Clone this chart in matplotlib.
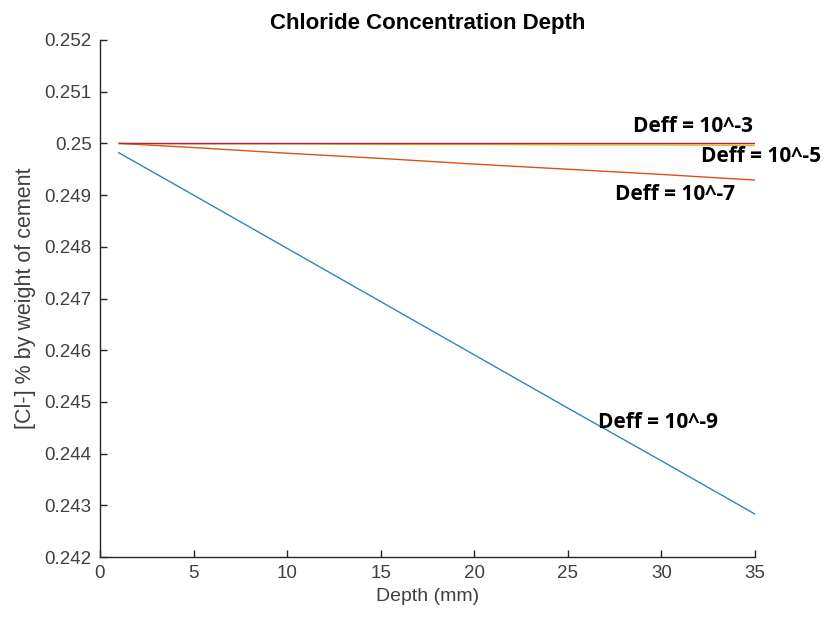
import matplotlib
matplotlib.use("Agg")
import matplotlib.pyplot as plt

# Depth samples (mm) and chloride concentration profiles for each Deff
depth = [1, 5, 10, 15, 20, 25, 30, 35]
cl_d9 = [0.24982, 0.24900, 0.24797, 0.24694, 0.24591, 0.24488, 0.24386, 0.24283]
cl_d7 = [0.25000, 0.24992, 0.24981, 0.24971, 0.24960, 0.24950, 0.24940, 0.24929]
cl_d5 = [0.25000, 0.24999, 0.24999, 0.24998, 0.24998, 0.24997, 0.24997, 0.24996]
cl_d3 = [0.25000, 0.25000, 0.25000, 0.25000, 0.25000, 0.25000, 0.25000, 0.25000]

labels = ["Deff = 10^-9", "Deff = 10^-7", "Deff = 10^-5", "Deff = 10^-3"]
label_pos = [(26.6, 0.24461), (27.5, 0.24902), (32.1, 0.24974), (28.5, 0.25032)]

x_ticks = [0, 5, 10, 15, 20, 25, 30, 35]
y_ticks = [0.242, 0.243, 0.244, 0.245, 0.246, 0.247, 0.248, 0.249, 0.250, 0.251, 0.252]
y_ticklabels = ["0.242", "0.243", "0.244", "0.245", "0.246", "0.247", "0.248",
                "0.249", "0.25", "0.251", "0.252"]

axis_color = "#262626"
label_color = "#404040"
colors = ["#2f86c0", "#D95319", "#EDB120", "#A8283F"]

fig = plt.figure(figsize=(8.25, 6.23), dpi=100)
ax = fig.add_axes([0.1212, 0.1059, 0.7940, 0.8299])

for series, c in zip([cl_d9, cl_d7, cl_d5, cl_d3], colors):
    ax.plot(depth, series, color=c, lw=1.0)

for text, (tx, ty) in zip(labels, label_pos):
    ax.text(tx, ty, text, ha="left", va="center", fontsize=15,
            fontweight="bold", family="Open Sans", color="black", clip_on=False)

ax.set_xlim(0, 35)
ax.set_ylim(0.242, 0.252)
ax.set_xticks(x_ticks)
ax.set_xticklabels([str(t) for t in x_ticks])
ax.set_yticks(y_ticks)
ax.set_yticklabels(y_ticklabels)

for side in ["top", "right"]:
    ax.spines[side].set_visible(False)
for side in ["left", "bottom"]:
    ax.spines[side].set_color(axis_color)
    ax.spines[side].set_linewidth(1.0)

ax.tick_params(direction="in", length=5, width=1.0, colors=axis_color,
               labelsize=13.5, labelcolor=label_color, pad=6)
for lbl in ax.get_xticklabels() + ax.get_yticklabels():
    lbl.set_family("Liberation Sans")

ax.set_title("Chloride Concentration Depth", fontsize=16, fontweight="bold",
             family="Liberation Sans", color="black", pad=8)
ax.set_xlabel("Depth (mm)", fontsize=14, family="Liberation Sans",
              color=label_color, labelpad=4)
ax.set_ylabel("[Cl-] % by weight of cement", fontsize=15.5,
              family="Liberation Sans", color=label_color, labelpad=6)

fig.savefig("out.png", dpi=100)
